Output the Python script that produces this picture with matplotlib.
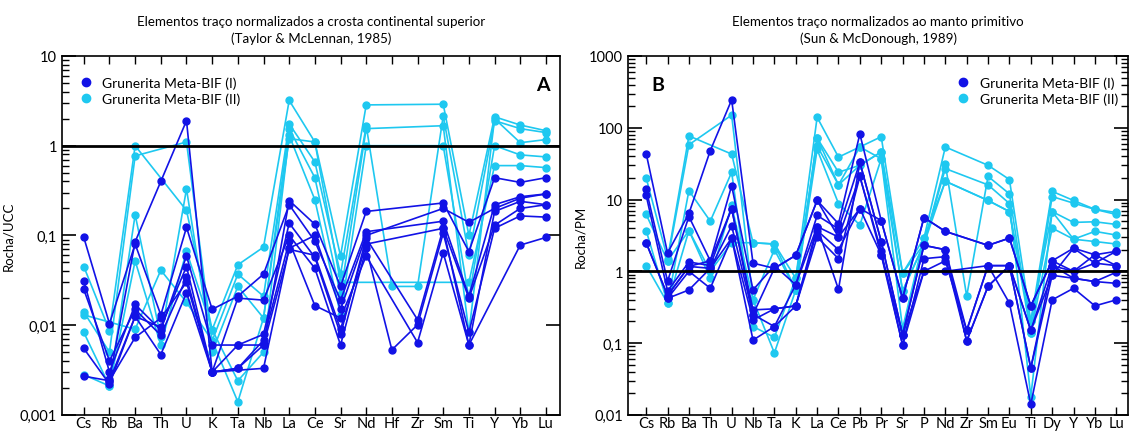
import numpy as np
import matplotlib
matplotlib.use('Agg')
import matplotlib.pyplot as plt
from matplotlib.lines import Line2D

plt.rcParams['font.family'] = ['Lato', 'DejaVu Sans']

nan = np.nan

# Painel A - normalizado a crosta continental superior (Taylor & McLennan, 1985)
elem_a = ['Cs', 'Rb', 'Ba', 'Th', 'U', 'K', 'Ta', 'Nb', 'La', 'Ce', 'Sr', 'Nd',
          'Hf', 'Zr', 'Sm', 'Ti', 'Y', 'Yb', 'Lu']

ucc_I = [
    [nan, 0.0025, 0.085, 0.4, 1.9, 0.003, 0.0033, 0.006, 0.245, 0.133, 0.027, 0.185, nan, nan, 0.23, 0.066, 0.44, 0.39, 0.44],
    [0.095, 0.0104, 0.08, 0.013, 0.123, 0.015, 0.021, 0.037, 0.22, 0.086, 0.019, 0.11, nan, nan, 0.144, 0.021, 0.22, 0.27, 0.29],
    [0.031, 0.003, 0.017, 0.0088, 0.059, 0.006, 0.006, 0.0079, 0.137, 0.057, 0.0079, 0.093, nan, 0.0115, 0.12, 0.006, 0.185, 0.24, 0.22],
    [0.025, 0.004, 0.015, 0.0077, 0.034, 0.003, 0.02, 0.019, 0.1, 0.043, 0.006, 0.072, 0.0053, 0.0101, 0.106, 0.0083, 0.12, 0.165, 0.16],
    [0.0055, 0.0022, 0.0125, 0.0047, 0.023, 0.003, 0.0033, 0.0068, 0.086, 0.0165, 0.012, 0.059, nan, 0.0064, 0.064, 0.006, nan, 0.078, 0.095],
    [nan, 0.0024, 0.0073, 0.012, 0.03, 0.003, nan, 0.0033, 0.072, 0.1, 0.015, 0.1, nan, nan, 0.2, 0.14, 0.2, 0.26, 0.29],
    [0.0027, 0.0024, 0.0125, 0.0095, 0.045, 0.003, 0.006, 0.006, 0.07, 0.06, 0.009, 0.08, nan, nan, 0.12, 0.02, 0.13, 0.2, 0.22],
]
ucc_II = [
    [0.045, 0.0087, 1.0, nan, 0.19, 0.0089, 0.047, 0.074, 3.2, 1.1, 0.059, 2.85, nan, nan, 2.9, 0.1, 2.1, 1.7, 1.47],
    [0.014, 0.005, 0.77, nan, 1.1, 0.0067, 0.037, 0.021, 1.75, 0.66, 0.037, 1.67, 0.027, 0.027, 2.15, 0.06, 1.9, 1.55, 1.4],
    [0.0083, 0.0021, 0.17, 0.0073, 0.33, 0.005, 0.027, 0.012, 1.55, 0.44, 0.022, 1.55, nan, nan, 1.67, 0.0083, 2.0, 1.08, 1.17],
    [0.0028, 0.0021, 0.052, 0.006, 0.067, 0.0089, 0.0024, 0.005, 1.3, 0.25, 0.013, 1.0, nan, nan, 1.0, 0.02, 1.0, 0.79, 0.75],
    [0.013, nan, 0.009, 0.041, 0.018, 0.0067, 0.0014, 0.012, 1.2, 1.1, 0.03, nan, nan, nan, nan, 0.03, 0.6, 0.6, 0.57],
]

# Painel B - normalizado ao manto primitivo (Sun & McDonough, 1989)
elem_b = ['Cs', 'Rb', 'Ba', 'Th', 'U', 'Nb', 'Ta', 'K', 'La', 'Ce', 'Pb', 'Pr', 'Sr',
          'P', 'Nd', 'Zr', 'Sm', 'Eu', 'Ti', 'Dy', 'Y', 'Yb', 'Lu']

pm_I = [
    [43.6, 1.8, 6.4, 48, 245, 1.3, 1.1, 1.67, 9.7, 4.6, 82, 5.1, 0.42, 5.6, 3.6, nan, 2.3, 2.9, 0.33, 1.4, 2.1, 1.7, 1.9],
    [13.8, 0.73, 5.8, 1.4, 15.6, 0.55, 1.2, 0.65, 6.0, 3.9, 33, 2.6, 0.13, 2.3, 2.0, 0.15, 1.2, 1.2, 0.15, 1.2, 1.0, 1.3, 1.2],
    [11.4, 0.53, 1.35, 1.2, 7.5, 0.29, 0.3, 0.33, 4.2, 3.0, 21, 1.9, 0.094, 1.5, 1.6, 0.107, 0.62, 1.2, 0.045, 0.88, 0.8, 0.72, 0.97],
    [2.5, 0.46, 1.17, 1.1, 4.3, 0.25, 0.17, 0.33, 3.7, 2.0, 7.5, 1.7, 0.13, 1.0, 1.4, 0.15, 1.2, 0.36, 0.014, 0.4, 0.58, 0.33, 0.4],
    [nan, 0.42, 1.0, 0.58, 2.9, 0.21, 0.3, 0.33, 3.0, 1.5, 21, 1.7, 0.094, 1.0, 1.0, nan, 1.2, 1.2, 0.045, 1.2, 0.8, 0.72, 0.68],
    [nan, 0.42, 0.55, 1.1, 2.9, 0.11, 0.17, 0.65, 4.2, 0.56, 33, 2.6, 0.13, 2.3, 2.0, 0.107, 0.62, 1.2, 0.15, 0.88, 2.1, 1.3, 1.9],
    [2.5, 0.46, 1.17, 1.4, 7.5, 0.25, 1.1, 1.67, 9.7, 3.0, 7.5, 5.1, 0.42, 5.6, 3.6, nan, 2.3, 2.9, 0.33, 1.4, 1.0, 1.7, 1.2],
]
pm_II = [
    [20, 1.5, 77, nan, 43, 2.5, 2.4, 0.8, 140, 39, 54, 75, 0.94, 2.9, 54, nan, 30, 19, 0.2, 13, 9.7, 7.3, 6.6],
    [6.2, 1.4, 58, nan, 150, 0.4, 2.0, 0.55, 72, 24, 30, 46, 0.53, 2.4, 31, 0.45, 21, 12, 0.14, 11, 8.9, 7.3, 6.2],
    [3.7, 0.36, 13.3, 5.0, 24, 0.17, 0.12, 0.8, 56, 16, 54, 37, 0.53, 2.4, 27, nan, 16, 8.8, 0.018, 6.8, 4.8, 4.9, 4.5],
    [1.2, 0.36, 3.7, 0.8, 8.3, 0.4, 0.073, 0.55, 50, 8.8, 4.4, 37, 0.16, 2.9, 18, nan, 9.7, 6.8, 0.14, 4.0, 2.8, 3.6, 3.2],
    [nan, 1.4, 3.7, 1.0, 2.5, 2.5, 2.4, 0.55, 72, 16, 30, 46, 0.94, 2.4, 18, nan, 9.7, 6.8, 0.2, 6.8, 2.8, 2.6, 2.4],
]

yticks_a = [0.001, 0.01, 0.1, 1, 10]
ylabels_a = ['0,001', '0,01', '0,1', '1', '10']
yticks_b = [0.01, 0.1, 1, 10, 100, 1000]
ylabels_b = ['0,01', '0,1', '1', '10', '100', '1000']

azul = '#1212E6'
ciano = '#1EC8F0'


def plot_series(ax, rows, color):
    for row in rows:
        y = np.array(row, dtype=float)
        x = np.arange(len(y))
        ok = ~np.isnan(y)
        ax.plot(x[ok], y[ok], '-o', color=color, lw=1.2, ms=5, zorder=3)


def style_axis(ax, elems, yticks, ylabels, ylim, right_minor):
    ax.set_yscale('log')
    ax.set_ylim(*ylim)
    ax.set_xlim(-0.85, len(elems) - 0.45)
    ax.set_xticks(range(len(elems)))
    ax.set_xticklabels(elems, fontsize=10.5)
    ax.set_yticks(yticks)
    ax.set_yticklabels(ylabels, fontsize=10.5)
    ax.tick_params(axis='x', direction='in', top=True, length=6, width=1, pad=1)
    ax.tick_params(axis='y', which='major', direction='in', right=True, length=10, width=1.2)
    ax.tick_params(axis='y', which='minor', direction='in', right=right_minor, length=5, width=1)
    for s in ax.spines.values():
        s.set_linewidth(1.2)
    ax.axhline(1, color='black', lw=2, zorder=4)


fig = plt.figure(figsize=(11.33, 4.35), dpi=100)
ax1 = fig.add_axes([0.0547, 0.044, 0.4396, 0.825])
ax2 = fig.add_axes([0.5543, 0.044, 0.4413, 0.825])

plot_series(ax1, ucc_II, ciano)
plot_series(ax1, ucc_I, azul)
style_axis(ax1, elem_a, yticks_a, ylabels_a, (0.001, 10), False)
ax1.set_ylabel('Rocha/UCC', fontsize=9.5, labelpad=4)
ax1.set_title('Elementos traço normalizados a crosta continental superior\n(Taylor & McLennan, 1985)',
              fontsize=9.6, pad=10, linespacing=1.45)
ax1.text(0.965, 0.92, 'A', transform=ax1.transAxes, fontsize=14, fontweight='bold',
         ha='center', va='center')

plot_series(ax2, pm_II, ciano)
plot_series(ax2, pm_I, azul)
style_axis(ax2, elem_b, yticks_b, ylabels_b, (0.01, 1000), True)
ax2.set_ylabel('Rocha/PM', fontsize=9.5, labelpad=2)
ax2.set_title('Elementos traço normalizados ao manto primitivo\n(Sun & McDonough, 1989)',
              fontsize=9.6, pad=10, linespacing=1.45)
ax2.text(0.06, 0.92, 'B', transform=ax2.transAxes, fontsize=14, fontweight='bold',
         ha='center', va='center')

handles = [Line2D([], [], ls='none', marker='o', ms=6, color=azul),
           Line2D([], [], ls='none', marker='o', ms=6, color=ciano)]
labels = ['Grunerita Meta-BIF (I)', 'Grunerita Meta-BIF (II)']
ax1.legend(handles, labels, loc='upper left', bbox_to_anchor=(0.0, 0.97), frameon=False,
           fontsize=10, handletextpad=0.2, borderaxespad=0.3, labelspacing=0.25)
ax2.legend(handles, labels, loc='upper right', bbox_to_anchor=(1.0, 0.97), frameon=False,
           fontsize=10, handletextpad=0.2, borderaxespad=0.3, labelspacing=0.25)

fig.savefig('out.png', dpi=100)
